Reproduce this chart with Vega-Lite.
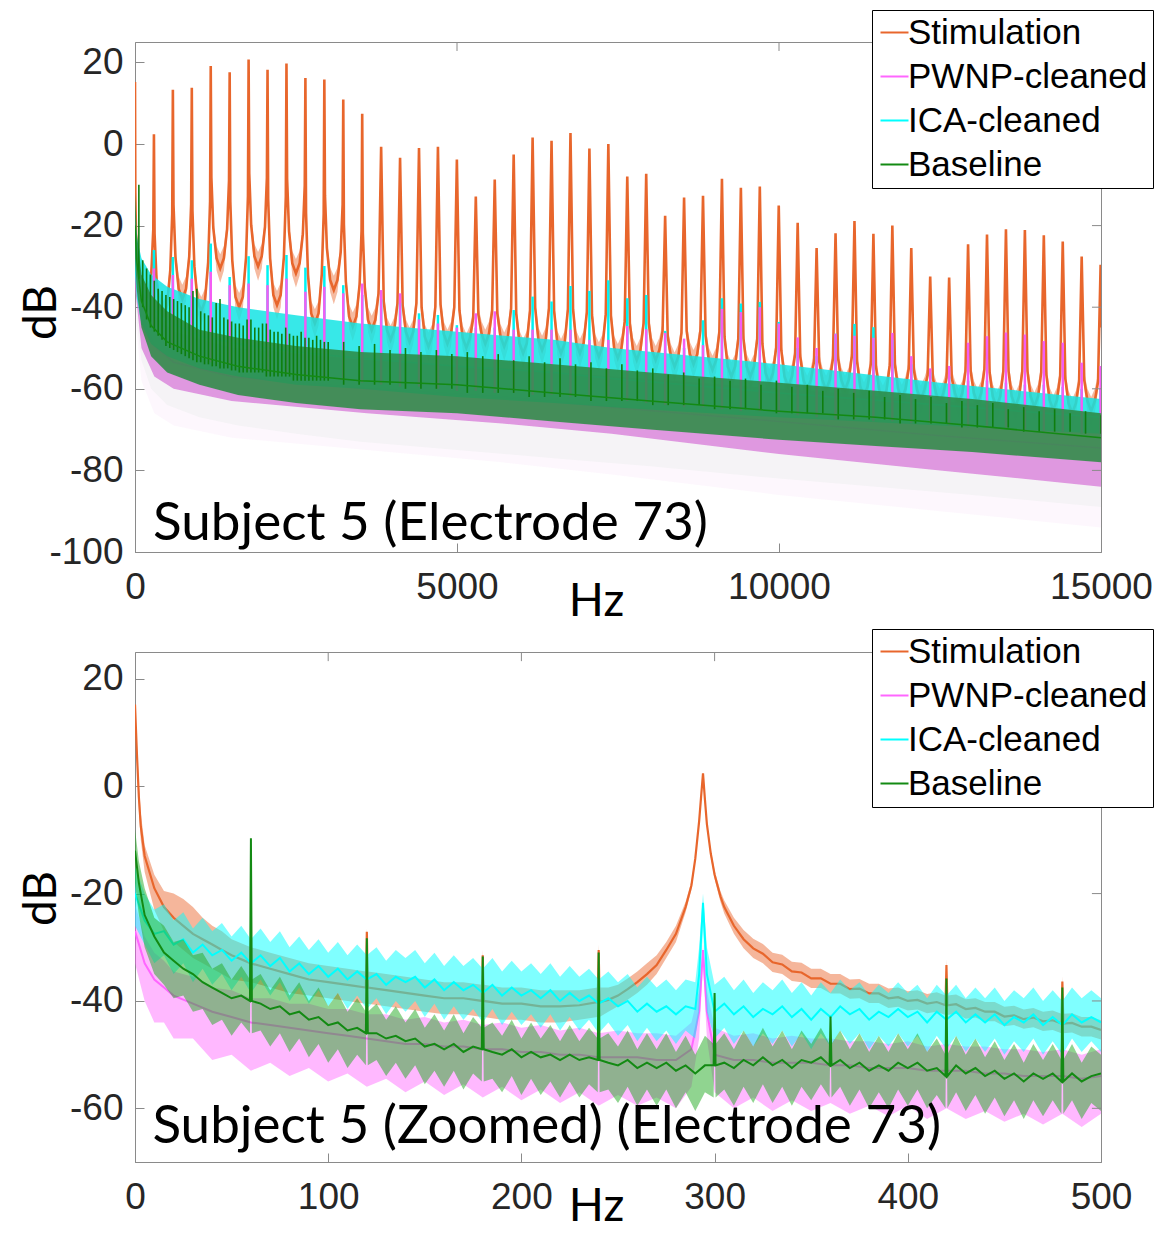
{
  "$schema": "https://vega.github.io/schema/vega-lite/v6.json",
  "background": "white",
  "padding": {"left": 17, "top": 9, "right": 5, "bottom": 20},
  "spacing": 100,
  "bounds": "flush",
  "config": {
    "font": "Liberation Sans",
    "view": {"stroke": "#8a8a8a", "strokeWidth": 1},
    "axis": {"grid": false, "domainColor": "#8a8a8a", "tickColor": "#8a8a8a", "tickSize": -9, "labelFont": "Liberation Sans", "labelFontSize": 37, "labelColor": "#262626", "titleFont": "Lato", "titleFontSize": 46, "titleFontWeight": "normal", "titleColor": "#000000", "labelOverlap": false},
    "axisX": {"labelPadding": 26, "labelFlush": false},
    "axisY": {"labelPadding": 21},
    "legend": {"symbolType": "stroke", "symbolSize": 784, "symbolStrokeWidth": 2, "labelFont": "Liberation Sans", "labelFontSize": 35, "labelColor": "#000000", "labelLimit": 400, "strokeColor": "#000000", "fillColor": "#ffffff", "padding": 5, "rowPadding": 8, "labelOffset": -4}
  },
  "resolve": {"scale": {"x": "independent", "y": "independent", "color": "independent"}, "legend": {"color": "independent"}},
  "datasets": {
    "stimTop": [
      {"hz":0,"db":15.2,"lo":15.2,"hi":15.2},{"hz":5,"db":-12,"lo":-13,"hi":-11},{"hz":15,"db":-22,"lo":-24,"hi":-20},{"hz":50,"db":-32,"lo":-35,"hi":-29},{"hz":147,"db":-40,"lo":-43.5,"hi":-36.5},
      {"hz":254,"db":-31.5,"lo":-33.5,"hi":-29.5},{"hz":284,"db":-20.9,"lo":-21.9,"hi":-19.9},{"hz":294,"db":2.4,"lo":2.4,"hi":2.4},{"hz":304,"db":-22,"lo":-23,"hi":-21},{"hz":334,"db":-33.1,"lo":-35.1,"hi":-31.1},{"hz":441,"db":-42,"lo":-45.5,"hi":-38.5},
      {"hz":548,"db":-30.9,"lo":-32.9,"hi":-28.9},{"hz":578,"db":-17.1,"lo":-18.1,"hi":-16.1},{"hz":588,"db":13.3,"lo":13.3,"hi":13.3},{"hz":598,"db":-14.9,"lo":-15.9,"hi":-13.9},{"hz":628,"db":-27.7,"lo":-29.7,"hi":-25.7},{"hz":735,"db":-38,"lo":-41.5,"hi":-34.5},
      {"hz":842,"db":-27.6,"lo":-29.6,"hi":-25.6},{"hz":872,"db":-14.7,"lo":-15.7,"hi":-13.7},{"hz":882,"db":13.8,"lo":13.8,"hi":13.8},{"hz":892,"db":-16.3,"lo":-17.3,"hi":-15.3},{"hz":922,"db":-30,"lo":-32,"hi":-28},{"hz":1029,"db":-41,"lo":-44.5,"hi":-37.5},
      {"hz":1136,"db":-29,"lo":-31,"hi":-27},{"hz":1166,"db":-14,"lo":-15,"hi":-13},{"hz":1176,"db":19.1,"lo":19.1,"hi":19.1},{"hz":1186,"db":-8.2,"lo":-9.2,"hi":-7.2},{"hz":1216,"db":-20.6,"lo":-22.6,"hi":-18.6},{"hz":1323,"db":-30.5,"lo":-34,"hi":-27},
      {"hz":1430,"db":-20.9,"lo":-22.9,"hi":-18.9},{"hz":1460,"db":-8.9,"lo":-9.9,"hi":-7.9},{"hz":1470,"db":17.6,"lo":17.6,"hi":17.6},{"hz":1480,"db":-14.1,"lo":-15.1,"hi":-13.1},{"hz":1510,"db":-28.5,"lo":-30.5,"hi":-26.5},{"hz":1617,"db":-40,"lo":-43.5,"hi":-36.5},
      {"hz":1724,"db":-27.9,"lo":-29.9,"hi":-25.9},{"hz":1754,"db":-12.7,"lo":-13.7,"hi":-11.7},{"hz":1764,"db":20.7,"lo":20.7,"hi":20.7},{"hz":1774,"db":-7.2,"lo":-8.2,"hi":-6.2},{"hz":1804,"db":-19.9,"lo":-21.9,"hi":-17.9},{"hz":1911,"db":-30,"lo":-33.5,"hi":-26.5},
      {"hz":2018,"db":-20.4,"lo":-22.4,"hi":-18.4},{"hz":2048,"db":-8.3,"lo":-9.3,"hi":-7.3},{"hz":2058,"db":18.2,"lo":18.2,"hi":18.2},{"hz":2068,"db":-13.5,"lo":-14.5,"hi":-12.5},{"hz":2098,"db":-28,"lo":-30,"hi":-26},{"hz":2205,"db":-39.5,"lo":-43,"hi":-36},
      {"hz":2312,"db":-27.7,"lo":-29.7,"hi":-25.7},{"hz":2342,"db":-12.9,"lo":-13.9,"hi":-11.9},{"hz":2352,"db":19.7,"lo":19.7,"hi":19.7},{"hz":2362,"db":-8.6,"lo":-9.6,"hi":-7.6},{"hz":2392,"db":-21.4,"lo":-23.4,"hi":-19.4},{"hz":2499,"db":-31.7,"lo":-35.2,"hi":-28.2},
      {"hz":2606,"db":-22.1,"lo":-24.1,"hi":-20.1},{"hz":2636,"db":-10.1,"lo":-11.1,"hi":-9.1},{"hz":2646,"db":16.2,"lo":16.2,"hi":16.2},{"hz":2656,"db":-16.9,"lo":-17.9,"hi":-15.9},{"hz":2686,"db":-32,"lo":-34,"hi":-30},{"hz":2793,"db":-44,"lo":-47.5,"hi":-40.5},
      {"hz":2900,"db":-32,"lo":-34,"hi":-30},{"hz":2930,"db":-17.1,"lo":-18.1,"hi":-16.1},{"hz":2940,"db":15.8,"lo":15.8,"hi":15.8},{"hz":2950,"db":-12.6,"lo":-13.6,"hi":-11.6},{"hz":2980,"db":-25.5,"lo":-27.5,"hi":-23.5},{"hz":3087,"db":-35.8,"lo":-39.3,"hi":-32.3},
      {"hz":3194,"db":-26.5,"lo":-28.5,"hi":-24.5},{"hz":3224,"db":-14.8,"lo":-15.8,"hi":-13.8},{"hz":3234,"db":10.9,"lo":10.9,"hi":10.9},{"hz":3244,"db":-19.7,"lo":-20.7,"hi":-18.7},{"hz":3274,"db":-33.7,"lo":-35.7,"hi":-31.7},{"hz":3381,"db":-44.8,"lo":-48.3,"hi":-41.3},
      {"hz":3488,"db":-34.4,"lo":-36.4,"hi":-32.4},{"hz":3518,"db":-21.3,"lo":-22.3,"hi":-20.3},{"hz":3528,"db":7.4,"lo":7.4,"hi":7.4},{"hz":3538,"db":-21.8,"lo":-22.8,"hi":-20.8},{"hz":3568,"db":-35,"lo":-37,"hi":-33},{"hz":3675,"db":-45.6,"lo":-49.1,"hi":-42.1},
      {"hz":3782,"db":-36.6,"lo":-38.6,"hi":-34.6},{"hz":3822,"db":-0.7,"lo":-0.7,"hi":-0.7},{"hz":3862,"db":-38.5,"lo":-40.5,"hi":-36.5},{"hz":3969,"db":-48,"lo":-51.5,"hi":-44.5},
      {"hz":4076,"db":-39.1,"lo":-41.1,"hi":-37.1},{"hz":4116,"db":-3.4,"lo":-3.4,"hi":-3.4},{"hz":4156,"db":-39.5,"lo":-41.5,"hi":-37.5},{"hz":4263,"db":-48.5,"lo":-52,"hi":-45},
      {"hz":4370,"db":-39,"lo":-41,"hi":-37},{"hz":4410,"db":-1,"lo":-1,"hi":-1},{"hz":4450,"db":-40,"lo":-42,"hi":-38},{"hz":4557,"db":-49.7,"lo":-53.2,"hi":-46.2},
      {"hz":4664,"db":-39.9,"lo":-41.9,"hi":-37.9},{"hz":4704,"db":-0.7,"lo":-0.7,"hi":-0.7},{"hz":4744,"db":-39.3,"lo":-41.3,"hi":-37.3},{"hz":4851,"db":-49,"lo":-52.5,"hi":-45.5},
      {"hz":4958,"db":-40,"lo":-42,"hi":-38},{"hz":4998,"db":-3.8,"lo":-3.8,"hi":-3.8},{"hz":5038,"db":-40.8,"lo":-42.8,"hi":-38.8},{"hz":5145,"db":-50,"lo":-53.5,"hi":-46.5},
      {"hz":5252,"db":-42.6,"lo":-44.6,"hi":-40.6},{"hz":5292,"db":-12.9,"lo":-12.9,"hi":-12.9},{"hz":5332,"db":-41.8,"lo":-43.8,"hi":-39.8},{"hz":5439,"db":-49,"lo":-52.5,"hi":-45.5},
      {"hz":5546,"db":-40.9,"lo":-42.9,"hi":-38.9},{"hz":5586,"db":-8.7,"lo":-8.7,"hi":-8.7},{"hz":5626,"db":-41.5,"lo":-43.5,"hi":-39.5},{"hz":5733,"db":-49.7,"lo":-53.2,"hi":-46.2},
      {"hz":5840,"db":-40.3,"lo":-42.3,"hi":-38.3},{"hz":5880,"db":-2.6,"lo":-2.6,"hi":-2.6},{"hz":5920,"db":-41.6,"lo":-43.6,"hi":-39.6},{"hz":6027,"db":-51.3,"lo":-54.8,"hi":-47.8},
      {"hz":6134,"db":-40.7,"lo":-42.7,"hi":-38.7},{"hz":6174,"db":1.6,"lo":1.6,"hi":1.6},{"hz":6214,"db":-40.1,"lo":-42.1,"hi":-38.1},{"hz":6321,"db":-50.5,"lo":-54,"hi":-47},
      {"hz":6428,"db":-40.2,"lo":-42.2,"hi":-38.2},{"hz":6468,"db":0.8,"lo":0.8,"hi":0.8},{"hz":6508,"db":-40.9,"lo":-42.9,"hi":-38.9},{"hz":6615,"db":-51.3,"lo":-54.8,"hi":-47.8},
      {"hz":6722,"db":-40.5,"lo":-42.5,"hi":-38.5},{"hz":6762,"db":2.7,"lo":2.7,"hi":2.7},{"hz":6802,"db":-40.5,"lo":-42.5,"hi":-38.5},{"hz":6909,"db":-51.3,"lo":-54.8,"hi":-47.8},
      {"hz":7016,"db":-41.3,"lo":-43.3,"hi":-39.3},{"hz":7056,"db":-1.1,"lo":-1.1,"hi":-1.1},{"hz":7096,"db":-41.9,"lo":-43.9,"hi":-39.9},{"hz":7203,"db":-52.1,"lo":-55.6,"hi":-48.6},
      {"hz":7310,"db":-41.7,"lo":-43.7,"hi":-39.7},{"hz":7350,"db":0,"lo":0,"hi":0},{"hz":7390,"db":-42,"lo":-44,"hi":-40},{"hz":7497,"db":-52.5,"lo":-56,"hi":-49},
      {"hz":7604,"db":-43.6,"lo":-45.6,"hi":-41.6},{"hz":7644,"db":-8,"lo":-8,"hi":-8},{"hz":7684,"db":-44,"lo":-46,"hi":-42},{"hz":7791,"db":-53,"lo":-56.5,"hi":-49.5},
      {"hz":7898,"db":-43.9,"lo":-45.9,"hi":-41.9},{"hz":7938,"db":-7.3,"lo":-7.3,"hi":-7.3},{"hz":7978,"db":-43.9,"lo":-45.9,"hi":-41.9},{"hz":8085,"db":-53,"lo":-56.5,"hi":-49.5},
      {"hz":8192,"db":-45.9,"lo":-47.9,"hi":-43.9},{"hz":8232,"db":-17.6,"lo":-17.6,"hi":-17.6},{"hz":8272,"db":-47.2,"lo":-49.2,"hi":-45.2},{"hz":8379,"db":-54.6,"lo":-58.1,"hi":-51.1},
      {"hz":8486,"db":-46.3,"lo":-48.3,"hi":-44.3},{"hz":8526,"db":-13.1,"lo":-13.1,"hi":-13.1},{"hz":8566,"db":-45.8,"lo":-47.8,"hi":-43.8},{"hz":8673,"db":-54,"lo":-57.5,"hi":-50.5},
      {"hz":8780,"db":-45.7,"lo":-47.7,"hi":-43.7},{"hz":8820,"db":-12.7,"lo":-12.7,"hi":-12.7},{"hz":8860,"db":-46.9,"lo":-48.9,"hi":-44.9},{"hz":8967,"db":-55.4,"lo":-58.9,"hi":-51.9},
      {"hz":9074,"db":-46,"lo":-48,"hi":-44},{"hz":9114,"db":-8.5,"lo":-8.5,"hi":-8.5},{"hz":9154,"db":-47.3,"lo":-49.3,"hi":-45.3},{"hz":9261,"db":-57,"lo":-60.5,"hi":-53.5},
      {"hz":9368,"db":-47.7,"lo":-49.7,"hi":-45.7},{"hz":9408,"db":-10.7,"lo":-10.7,"hi":-10.7},{"hz":9448,"db":-47.7,"lo":-49.7,"hi":-45.7},{"hz":9555,"db":-57,"lo":-60.5,"hi":-53.5},
      {"hz":9662,"db":-47.7,"lo":-49.7,"hi":-45.7},{"hz":9702,"db":-10.4,"lo":-10.4,"hi":-10.4},{"hz":9742,"db":-49,"lo":-51,"hi":-47},{"hz":9849,"db":-58.6,"lo":-62.1,"hi":-55.1},
      {"hz":9956,"db":-49.9,"lo":-51.9,"hi":-47.9},{"hz":9996,"db":-15.1,"lo":-15.1,"hi":-15.1},{"hz":10036,"db":-50.6,"lo":-52.6,"hi":-48.6},{"hz":10143,"db":-59.5,"lo":-63,"hi":-56},
      {"hz":10250,"db":-51.5,"lo":-53.5,"hi":-49.5},{"hz":10290,"db":-19.3,"lo":-19.3,"hi":-19.3},{"hz":10330,"db":-52.1,"lo":-54.1,"hi":-50.1},{"hz":10437,"db":-60.3,"lo":-63.8,"hi":-56.8},
      {"hz":10544,"db":-53.3,"lo":-55.3,"hi":-51.3},{"hz":10584,"db":-25.5,"lo":-25.5,"hi":-25.5},{"hz":10624,"db":-53.3,"lo":-55.3,"hi":-51.3},{"hz":10731,"db":-60.3,"lo":-63.8,"hi":-56.8},
      {"hz":10838,"db":-52.6,"lo":-54.6,"hi":-50.6},{"hz":10878,"db":-21.9,"lo":-21.9,"hi":-21.9},{"hz":10918,"db":-52.6,"lo":-54.6,"hi":-50.6},{"hz":11025,"db":-60.3,"lo":-63.8,"hi":-56.8},
      {"hz":11132,"db":-52,"lo":-54,"hi":-50},{"hz":11172,"db":-18.9,"lo":-18.9,"hi":-18.9},{"hz":11212,"db":-53.3,"lo":-55.3,"hi":-51.3},{"hz":11319,"db":-61.9,"lo":-65.4,"hi":-58.4},
      {"hz":11426,"db":-53.9,"lo":-55.9,"hi":-51.9},{"hz":11466,"db":-22,"lo":-22,"hi":-22},{"hz":11506,"db":-54.6,"lo":-56.6,"hi":-52.6},{"hz":11613,"db":-62.7,"lo":-66.2,"hi":-59.2},
      {"hz":11720,"db":-54.2,"lo":-56.2,"hi":-52.2},{"hz":11760,"db":-20,"lo":-20,"hi":-20},{"hz":11800,"db":-54,"lo":-56,"hi":-52},{"hz":11907,"db":-62.5,"lo":-66,"hi":-59},
      {"hz":12014,"db":-55.1,"lo":-57.1,"hi":-53.1},{"hz":12054,"db":-25.5,"lo":-25.5,"hi":-25.5},{"hz":12094,"db":-55.3,"lo":-57.3,"hi":-53.3},{"hz":12201,"db":-62.7,"lo":-66.2,"hi":-59.2},
      {"hz":12308,"db":-56.7,"lo":-58.7,"hi":-54.7},{"hz":12348,"db":-32.5,"lo":-32.5,"hi":-32.5},{"hz":12388,"db":-57.3,"lo":-59.3,"hi":-55.3},{"hz":12495,"db":-63.5,"lo":-67,"hi":-60},
      {"hz":12602,"db":-57.3,"lo":-59.3,"hi":-55.3},{"hz":12642,"db":-32.7,"lo":-32.7,"hi":-32.7},{"hz":12682,"db":-57.3,"lo":-59.3,"hi":-55.3},{"hz":12789,"db":-63.5,"lo":-67,"hi":-60},
      {"hz":12896,"db":-55.7,"lo":-57.7,"hi":-53.7},{"hz":12936,"db":-24.6,"lo":-24.6,"hi":-24.6},{"hz":12976,"db":-55.7,"lo":-57.7,"hi":-53.7},{"hz":13083,"db":-63.5,"lo":-67,"hi":-60},
      {"hz":13190,"db":-55.2,"lo":-57.2,"hi":-53.2},{"hz":13230,"db":-22.2,"lo":-22.2,"hi":-22.2},{"hz":13270,"db":-56,"lo":-58,"hi":-54},{"hz":13377,"db":-64.4,"lo":-67.9,"hi":-60.9},
      {"hz":13484,"db":-55.7,"lo":-57.7,"hi":-53.7},{"hz":13524,"db":-20.9,"lo":-20.9,"hi":-20.9},{"hz":13564,"db":-55.7,"lo":-57.7,"hi":-53.7},{"hz":13671,"db":-64.4,"lo":-67.9,"hi":-60.9},
      {"hz":13778,"db":-55.7,"lo":-57.7,"hi":-53.7},{"hz":13818,"db":-21.1,"lo":-21.1,"hi":-21.1},{"hz":13858,"db":-55.7,"lo":-57.7,"hi":-53.7},{"hz":13965,"db":-64.4,"lo":-67.9,"hi":-60.9},
      {"hz":14072,"db":-56,"lo":-58,"hi":-54},{"hz":14112,"db":-22.4,"lo":-22.4,"hi":-22.4},{"hz":14152,"db":-56.6,"lo":-58.6,"hi":-54.6},{"hz":14259,"db":-65.2,"lo":-68.7,"hi":-61.7},
      {"hz":14366,"db":-56.9,"lo":-58.9,"hi":-54.9},{"hz":14406,"db":-23.9,"lo":-23.9,"hi":-23.9},{"hz":14446,"db":-57.6,"lo":-59.6,"hi":-55.6},{"hz":14553,"db":-66,"lo":-69.5,"hi":-62.5},
      {"hz":14660,"db":-58.3,"lo":-60.3,"hi":-56.3},{"hz":14700,"db":-27.6,"lo":-27.6,"hi":-27.6},{"hz":14740,"db":-57.9,"lo":-59.9,"hi":-55.9},{"hz":14847,"db":-65.5,"lo":-69,"hi":-62},
      {"hz":14954,"db":-58.3,"lo":-60.3,"hi":-56.3},{"hz":14994,"db":-29.6,"lo":-29.6,"hi":-29.6},{"hz":15000,"db":-45,"lo":-46,"hi":-44},
      {"hz":204,"db":-37.5,"lo":-40.5,"hi":-34.5},{"hz":384,"db":-39.5,"lo":-42.5,"hi":-36.5},{"hz":498,"db":-39.5,"lo":-42.5,"hi":-36.5},{"hz":678,"db":-35.5,"lo":-38.5,"hi":-32.5},{"hz":792,"db":-35.5,"lo":-38.5,"hi":-32.5},
      {"hz":972,"db":-38.5,"lo":-41.5,"hi":-35.5},{"hz":1086,"db":-38.5,"lo":-41.5,"hi":-35.5},{"hz":1266,"db":-28,"lo":-31,"hi":-25},{"hz":1380,"db":-28,"lo":-31,"hi":-25},{"hz":1560,"db":-37.5,"lo":-40.5,"hi":-34.5},
      {"hz":1674,"db":-37.5,"lo":-40.5,"hi":-34.5},{"hz":1854,"db":-27.5,"lo":-30.5,"hi":-24.5},{"hz":1968,"db":-27.5,"lo":-30.5,"hi":-24.5},{"hz":2148,"db":-37,"lo":-40,"hi":-34},{"hz":2262,"db":-37,"lo":-40,"hi":-34},
      {"hz":2442,"db":-29.2,"lo":-32.2,"hi":-26.2},{"hz":2556,"db":-29.2,"lo":-32.2,"hi":-26.2},{"hz":2736,"db":-41.5,"lo":-44.5,"hi":-38.5},{"hz":2850,"db":-41.5,"lo":-44.5,"hi":-38.5},{"hz":3030,"db":-33.3,"lo":-36.3,"hi":-30.3},
      {"hz":3144,"db":-33.3,"lo":-36.3,"hi":-30.3},{"hz":3324,"db":-42.3,"lo":-45.3,"hi":-39.3},{"hz":3438,"db":-42.3,"lo":-45.3,"hi":-39.3},{"hz":3618,"db":-43.1,"lo":-46.1,"hi":-40.1},{"hz":3732,"db":-43.1,"lo":-46.1,"hi":-40.1},
      {"hz":3912,"db":-45.5,"lo":-48.5,"hi":-42.5},{"hz":4026,"db":-45.5,"lo":-48.5,"hi":-42.5},{"hz":4206,"db":-46,"lo":-49,"hi":-43},{"hz":4320,"db":-46,"lo":-49,"hi":-43},{"hz":4500,"db":-47.2,"lo":-50.2,"hi":-44.2},
      {"hz":4614,"db":-47.2,"lo":-50.2,"hi":-44.2},{"hz":4794,"db":-46.5,"lo":-49.5,"hi":-43.5},{"hz":4908,"db":-46.5,"lo":-49.5,"hi":-43.5},{"hz":5088,"db":-47.5,"lo":-50.5,"hi":-44.5},{"hz":5202,"db":-47.5,"lo":-50.5,"hi":-44.5},
      {"hz":5382,"db":-46.5,"lo":-49.5,"hi":-43.5},{"hz":5496,"db":-46.5,"lo":-49.5,"hi":-43.5},{"hz":5676,"db":-47.2,"lo":-50.2,"hi":-44.2},{"hz":5790,"db":-47.2,"lo":-50.2,"hi":-44.2},{"hz":5970,"db":-48.8,"lo":-51.8,"hi":-45.8},
      {"hz":6084,"db":-48.8,"lo":-51.8,"hi":-45.8},{"hz":6264,"db":-48,"lo":-51,"hi":-45},{"hz":6378,"db":-48,"lo":-51,"hi":-45},{"hz":6558,"db":-48.8,"lo":-51.8,"hi":-45.8},{"hz":6672,"db":-48.8,"lo":-51.8,"hi":-45.8},
      {"hz":6852,"db":-48.8,"lo":-51.8,"hi":-45.8},{"hz":6966,"db":-48.8,"lo":-51.8,"hi":-45.8},{"hz":7146,"db":-49.6,"lo":-52.6,"hi":-46.6},{"hz":7260,"db":-49.6,"lo":-52.6,"hi":-46.6},{"hz":7440,"db":-50,"lo":-53,"hi":-47},
      {"hz":7554,"db":-50,"lo":-53,"hi":-47},{"hz":7734,"db":-50.5,"lo":-53.5,"hi":-47.5},{"hz":7848,"db":-50.5,"lo":-53.5,"hi":-47.5},{"hz":8028,"db":-50.5,"lo":-53.5,"hi":-47.5},{"hz":8142,"db":-50.5,"lo":-53.5,"hi":-47.5},
      {"hz":8322,"db":-52.1,"lo":-55.1,"hi":-49.1},{"hz":8436,"db":-52.1,"lo":-55.1,"hi":-49.1},{"hz":8616,"db":-51.5,"lo":-54.5,"hi":-48.5},{"hz":8730,"db":-51.5,"lo":-54.5,"hi":-48.5},{"hz":8910,"db":-52.9,"lo":-55.9,"hi":-49.9},
      {"hz":9024,"db":-52.9,"lo":-55.9,"hi":-49.9},{"hz":9204,"db":-54.5,"lo":-57.5,"hi":-51.5},{"hz":9318,"db":-54.5,"lo":-57.5,"hi":-51.5},{"hz":9498,"db":-54.5,"lo":-57.5,"hi":-51.5},{"hz":9612,"db":-54.5,"lo":-57.5,"hi":-51.5},
      {"hz":9792,"db":-56.1,"lo":-59.1,"hi":-53.1},{"hz":9906,"db":-56.1,"lo":-59.1,"hi":-53.1},{"hz":10086,"db":-57,"lo":-60,"hi":-54},{"hz":10200,"db":-57,"lo":-60,"hi":-54},{"hz":10380,"db":-57.8,"lo":-60.8,"hi":-54.8},
      {"hz":10494,"db":-57.8,"lo":-60.8,"hi":-54.8},{"hz":10674,"db":-57.8,"lo":-60.8,"hi":-54.8},{"hz":10788,"db":-57.8,"lo":-60.8,"hi":-54.8},{"hz":10968,"db":-57.8,"lo":-60.8,"hi":-54.8},{"hz":11082,"db":-57.8,"lo":-60.8,"hi":-54.8},
      {"hz":11262,"db":-59.4,"lo":-62.4,"hi":-56.4},{"hz":11376,"db":-59.4,"lo":-62.4,"hi":-56.4},{"hz":11556,"db":-60.2,"lo":-63.2,"hi":-57.2},{"hz":11670,"db":-60.2,"lo":-63.2,"hi":-57.2},{"hz":11850,"db":-60,"lo":-63,"hi":-57},
      {"hz":11964,"db":-60,"lo":-63,"hi":-57},{"hz":12144,"db":-60.2,"lo":-63.2,"hi":-57.2},{"hz":12258,"db":-60.2,"lo":-63.2,"hi":-57.2},{"hz":12438,"db":-61,"lo":-64,"hi":-58},{"hz":12552,"db":-61,"lo":-64,"hi":-58},
      {"hz":12732,"db":-61,"lo":-64,"hi":-58},{"hz":12846,"db":-61,"lo":-64,"hi":-58},{"hz":13026,"db":-61,"lo":-64,"hi":-58},{"hz":13140,"db":-61,"lo":-64,"hi":-58},{"hz":13320,"db":-61.9,"lo":-64.9,"hi":-58.9},
      {"hz":13434,"db":-61.9,"lo":-64.9,"hi":-58.9},{"hz":13614,"db":-61.9,"lo":-64.9,"hi":-58.9},{"hz":13728,"db":-61.9,"lo":-64.9,"hi":-58.9},{"hz":13908,"db":-61.9,"lo":-64.9,"hi":-58.9},{"hz":14022,"db":-61.9,"lo":-64.9,"hi":-58.9},
      {"hz":14202,"db":-62.7,"lo":-65.7,"hi":-59.7},{"hz":14316,"db":-62.7,"lo":-65.7,"hi":-59.7},{"hz":14496,"db":-63.5,"lo":-66.5,"hi":-60.5},{"hz":14610,"db":-63.5,"lo":-66.5,"hi":-60.5},{"hz":14790,"db":-63,"lo":-66,"hi":-60},
      {"hz":14904,"db":-63,"lo":-66,"hi":-60}
    ],
    "pwnpTop": [
      {"hz":0,"db":-27.5,"lo":-35,"hi":-20,"haze":-42},{"hz":100,"db":-42.5,"lo":-50,"hi":-35,"haze":-58},{"hz":300,"db":-49.5,"lo":-57,"hi":-42,"haze":-66},{"hz":600,"db":-53.5,"lo":-60,"hi":-46,"haze":-69},
      {"hz":1500,"db":-57,"lo":-63,"hi":-50,"haze":-72},{"hz":3600,"db":-60,"lo":-66,"hi":-53,"haze":-75},{"hz":5700,"db":-62,"lo":-68.5,"hi":-55,"haze":-78},{"hz":7400,"db":-64.5,"lo":-71,"hi":-57,"haze":-81},
      {"hz":10000,"db":-68,"lo":-76,"hi":-60,"haze":-86},{"hz":12500,"db":-71.5,"lo":-80,"hi":-63,"haze":-90},{"hz":15000,"db":-74.5,"lo":-84,"hi":-66,"haze":-94}
    ],
    "icaTop": [
      {"hz":0,"db":-25,"lo":-32,"hi":-18},{"hz":30,"db":-30,"lo":-38,"hi":-23},{"hz":100,"db":-35,"lo":-44,"hi":-28},{"hz":250,"db":-40,"lo":-49,"hi":-32},{"hz":500,"db":-43.5,"lo":-52,"hi":-35},
      {"hz":1000,"db":-47,"lo":-55,"hi":-38},{"hz":1600,"db":-49,"lo":-57,"hi":-40},{"hz":2500,"db":-51,"lo":-59,"hi":-42},{"hz":3500,"db":-52.5,"lo":-60,"hi":-44},{"hz":5000,"db":-54.5,"lo":-62,"hi":-46},
      {"hz":6500,"db":-56,"lo":-63.5,"hi":-48},{"hz":7400,"db":-57.5,"lo":-64.5,"hi":-50},{"hz":10000,"db":-61,"lo":-67,"hi":-54},{"hz":12500,"db":-64,"lo":-69,"hi":-58.5},{"hz":15000,"db":-67,"lo":-71,"hi":-62.5}
    ],
    "baseTop": [
      {"hz":0,"db":-20,"lo":-28,"hi":-12,"haze":-34},{"hz":30,"db":-29,"lo":-36,"hi":-22,"haze":-44},{"hz":100,"db":-38.5,"lo":-45,"hi":-32,"haze":-53},{"hz":250,"db":-44.5,"lo":-52,"hi":-37,"haze":-60},
      {"hz":500,"db":-48.5,"lo":-56,"hi":-41,"haze":-64},{"hz":1000,"db":-52,"lo":-59,"hi":-45.5,"haze":-67},{"hz":1600,"db":-54.5,"lo":-61.5,"hi":-47.5,"haze":-69},{"hz":2500,"db":-56.5,"lo":-63.5,"hi":-49.5,"haze":-71},
      {"hz":3500,"db":-58,"lo":-65,"hi":-51,"haze":-73},{"hz":5000,"db":-59,"lo":-66,"hi":-52,"haze":-75},{"hz":6500,"db":-61,"lo":-68,"hi":-54,"haze":-77},{"hz":8000,"db":-63,"lo":-70,"hi":-56,"haze":-79},
      {"hz":10000,"db":-65.5,"lo":-72.5,"hi":-58.5,"haze":-82},{"hz":11500,"db":-67,"lo":-74,"hi":-60.5,"haze":-84},{"hz":13000,"db":-69,"lo":-75.5,"hi":-62.5,"haze":-86},{"hz":15000,"db":-72,"lo":-78,"hi":-66,"haze":-89}
    ],
    "harmonicsTop": [
      {"hz":294,"ica":-26,"pwnp":-30.5,"base":-45.5},{"hz":588,"ica":-27.7,"pwnp":-32.1,"base":-50},{"hz":882,"ica":-28.5,"pwnp":-33,"base":-52},{"hz":1176,"ica":-24.4,"pwnp":-31.3,"base":-53.5},
      {"hz":1470,"ica":-32.6,"pwnp":-34.6,"base":-54},{"hz":1764,"ica":-27.5,"pwnp":-34.2,"base":-55.5},{"hz":2058,"ica":-29.7,"pwnp":-34.6,"base":-56},{"hz":2352,"ica":-27.2,"pwnp":-33,"base":-56.5},
      {"hz":2646,"ica":-30.3,"pwnp":-36.2,"base":-57},{"hz":2940,"ica":-29.9,"pwnp":-35,"base":-57.5},{"hz":3234,"ica":-34.6,"pwnp":-36.6,"base":-58},{"hz":3528,"ica":-37,"pwnp":-34.2,"base":-58.5},
      {"hz":3822,"ica":-38,"pwnp":-35.8,"base":-59},{"hz":4116,"ica":-39,"pwnp":-36.6,"base":-59.5},{"hz":4410,"ica":-41.5,"pwnp":-43,"base":-59.5},{"hz":4704,"ica":-41.9,"pwnp":-44,"base":-60},
      {"hz":4998,"ica":-44.4,"pwnp":-45,"base":-60.5},{"hz":5292,"ica":-45,"pwnp":-41.5,"base":-60.5},{"hz":5586,"ica":-45,"pwnp":-41,"base":-61},{"hz":5880,"ica":-40.7,"pwnp":-45.5,"base":-61},
      {"hz":6174,"ica":-37.4,"pwnp":-45.5,"base":-61.5},{"hz":6468,"ica":-38.6,"pwnp":-45.5,"base":-61.5},{"hz":6762,"ica":-34.8,"pwnp":-45.5,"base":-62},{"hz":7056,"ica":-36,"pwnp":-48,"base":-62},
      {"hz":7350,"ica":-33.4,"pwnp":-48,"base":-62.5},{"hz":7644,"ica":-37.8,"pwnp":-44.6,"base":-63},{"hz":7938,"ica":-37,"pwnp":-45.4,"base":-63.5},{"hz":8232,"ica":-45.8,"pwnp":-46.3,"base":-64},
      {"hz":8526,"ica":-50,"pwnp":-47.7,"base":-64.5},{"hz":8820,"ica":-43.2,"pwnp":-49.3,"base":-64.5},{"hz":9114,"ica":-37.8,"pwnp":-40.4,"base":-65},{"hz":9408,"ica":-39.1,"pwnp":-41.2,"base":-65.5},
      {"hz":9702,"ica":-38.7,"pwnp":-40,"base":-65.5},{"hz":9996,"ica":-43.6,"pwnp":-44,"base":-66},{"hz":10290,"ica":-50,"pwnp":-47.4,"base":-66.5},{"hz":10584,"ica":-52,"pwnp":-50,"base":-67},
      {"hz":10878,"ica":-46.5,"pwnp":-46.5,"base":-67.5},{"hz":11172,"ica":-44.1,"pwnp":-47,"base":-67.5},{"hz":11466,"ica":-44.9,"pwnp":-47.5,"base":-68},{"hz":11760,"ica":-48,"pwnp":-46.3,"base":-68},
      {"hz":12054,"ica":-54,"pwnp":-52,"base":-68.5},{"hz":12348,"ica":-56,"pwnp":-55,"base":-68.5},{"hz":12642,"ica":-57,"pwnp":-54.4,"base":-69},{"hz":12936,"ica":-58,"pwnp":-48.7,"base":-69.5},
      {"hz":13230,"ica":-58,"pwnp":-47.1,"base":-69.5},{"hz":13524,"ica":-58.5,"pwnp":-46.2,"base":-70},{"hz":13818,"ica":-59,"pwnp":-46.7,"base":-70},{"hz":14112,"ica":-59,"pwnp":-48.3,"base":-70.5},
      {"hz":14406,"ica":-59.5,"pwnp":-48.7,"base":-70.5},{"hz":14700,"ica":-60,"pwnp":-53.6,"base":-71},{"hz":14994,"ica":-60,"pwnp":-54.4,"base":-71}
    ],
    "lineNoiseTop": [
      {"hz":60,"top":-10,"base":-33},{"hz":120,"top":-28.5,"base":-40},{"hz":180,"top":-30.5,"base":-43},{"hz":240,"top":-32,"base":-45},{"hz":300,"top":-33.5,"base":-46},{"hz":360,"top":-35.5,"base":-47},
      {"hz":420,"top":-36,"base":-48},{"hz":480,"top":-37,"base":-49.5},{"hz":540,"top":-37.5,"base":-50},{"hz":600,"top":-38,"base":-50.5},{"hz":660,"top":-38.5,"base":-51},{"hz":720,"top":-39,"base":-51.5},
      {"hz":780,"top":-39.5,"base":-52},{"hz":840,"top":-40,"base":-52.5},{"hz":900,"top":-36,"base":-53},{"hz":960,"top":-35.5,"base":-53.5},{"hz":1020,"top":-41,"base":-53.5},{"hz":1080,"top":-41.5,"base":-54},
      {"hz":1140,"top":-42,"base":-54},{"hz":1200,"top":-42.5,"base":-54.5},{"hz":1260,"top":-39,"base":-54.5},{"hz":1320,"top":-38,"base":-55},{"hz":1380,"top":-42.5,"base":-55},{"hz":1440,"top":-43,"base":-55},
      {"hz":1500,"top":-43.5,"base":-55.5},{"hz":1560,"top":-44,"base":-55.5},{"hz":1620,"top":-44,"base":-56},{"hz":1680,"top":-44.5,"base":-56},{"hz":1740,"top":-43,"base":-56},{"hz":1800,"top":-43,"base":-56},
      {"hz":1860,"top":-45,"base":-56},{"hz":1920,"top":-45,"base":-56},{"hz":1980,"top":-44,"base":-56},{"hz":2040,"top":-44,"base":-57},{"hz":2100,"top":-45.5,"base":-57},{"hz":2160,"top":-46,"base":-57},
      {"hz":2220,"top":-46,"base":-57},{"hz":2280,"top":-46.5,"base":-57},{"hz":2340,"top":-45,"base":-57},{"hz":2400,"top":-46.5,"base":-57},{"hz":2460,"top":-47,"base":-58},{"hz":2520,"top":-47,"base":-58},
      {"hz":2580,"top":-46,"base":-58},{"hz":2640,"top":-47.5,"base":-58},{"hz":2700,"top":-47.5,"base":-58},{"hz":2760,"top":-48,"base":-58},{"hz":2820,"top":-47,"base":-58},{"hz":2880,"top":-48,"base":-58},
      {"hz":2940,"top":-48.5,"base":-58},{"hz":3000,"top":-48.5,"base":-58},{"hz":3240,"top":-48.5,"base":-59},{"hz":3480,"top":-49.5,"base":-59},{"hz":3720,"top":-49,"base":-59},{"hz":3960,"top":-50.5,"base":-59},
      {"hz":4200,"top":-50,"base":-60},{"hz":4440,"top":-51,"base":-60},{"hz":4680,"top":-50.5,"base":-60},{"hz":4920,"top":-51.5,"base":-60},{"hz":5160,"top":-51,"base":-61},{"hz":5400,"top":-52,"base":-61},
      {"hz":5640,"top":-51.5,"base":-61},{"hz":5880,"top":-53,"base":-61},{"hz":6120,"top":-52,"base":-62},{"hz":6360,"top":-53.5,"base":-62},{"hz":6600,"top":-52.5,"base":-62},{"hz":6840,"top":-54,"base":-62},
      {"hz":7080,"top":-53.5,"base":-63},{"hz":7320,"top":-55,"base":-63},{"hz":7560,"top":-54,"base":-63},{"hz":7800,"top":-55.5,"base":-63},{"hz":8040,"top":-55,"base":-64},{"hz":8280,"top":-56.5,"base":-64},
      {"hz":8520,"top":-56,"base":-64},{"hz":8760,"top":-57.5,"base":-64},{"hz":9000,"top":-57,"base":-65},{"hz":9240,"top":-58,"base":-65},{"hz":9480,"top":-57.5,"base":-65},{"hz":9720,"top":-59,"base":-65},
      {"hz":9960,"top":-58,"base":-66},{"hz":10200,"top":-59.5,"base":-66},{"hz":10440,"top":-59,"base":-66},{"hz":10680,"top":-60.5,"base":-66},{"hz":10920,"top":-60,"base":-67.5},{"hz":11160,"top":-61,"base":-67.5},
      {"hz":11400,"top":-60.5,"base":-67.5},{"hz":11640,"top":-62,"base":-67.5},{"hz":11880,"top":-61.5,"base":-68.5},{"hz":12120,"top":-62.5,"base":-68.5},{"hz":12360,"top":-62,"base":-68.5},{"hz":12600,"top":-63.5,"base":-68.5},
      {"hz":12840,"top":-63,"base":-69.5},{"hz":13080,"top":-64,"base":-69.5},{"hz":13320,"top":-63.5,"base":-69.5},{"hz":13560,"top":-65,"base":-69.5},{"hz":13800,"top":-64.5,"base":-70.5},{"hz":14040,"top":-65.5,"base":-70.5},
      {"hz":14280,"top":-65,"base":-70.5},{"hz":14520,"top":-66,"base":-70.5},{"hz":14760,"top":-65.5,"base":-71},{"hz":15000,"top":-66.5,"base":-71}
    ],
    "stimZoom": [
      {"hz":0,"db":15.2,"lo":15.2,"hi":15.2},{"hz":1,"db":6,"lo":4,"hi":8},{"hz":2,"db":-2,"lo":-4.5,"hi":0.5},{"hz":3,"db":-7.5,"lo":-10,"hi":-5},{"hz":5,"db":-13,"lo":-16,"hi":-11},
      {"hz":10,"db":-19,"lo":-23,"hi":-16.5},{"hz":15,"db":-22.5,"lo":-27,"hi":-19.5},{"hz":20,"db":-24.5,"lo":-29,"hi":-20},{"hz":25,"db":-26,"lo":-30.5,"hi":-21},{"hz":30,"db":-27.5,"lo":-32,"hi":-22.5},
      {"hz":35,"db":-28.5,"lo":-33,"hi":-24.5},{"hz":40,"db":-29.5,"lo":-34,"hi":-26},{"hz":45,"db":-30.5,"lo":-35,"hi":-27},{"hz":50,"db":-31.5,"lo":-36,"hi":-28.5},{"hz":60,"db":-33,"lo":-36.5,"hi":-30},
      {"hz":70,"db":-34,"lo":-37.5,"hi":-31},{"hz":80,"db":-35,"lo":-38.5,"hi":-32},{"hz":90,"db":-36,"lo":-39,"hi":-33},{"hz":100,"db":-36.5,"lo":-39.5,"hi":-33.5},{"hz":110,"db":-37,"lo":-40,"hi":-34},
      {"hz":119.5,"db":-37.5,"lo":-40.5,"hi":-34.5},{"hz":120,"db":-27.1,"lo":-28,"hi":-26.5},{"hz":120.5,"db":-37.5,"lo":-40.5,"hi":-34.5},{"hz":130,"db":-38,"lo":-41,"hi":-35},{"hz":140,"db":-38.5,"lo":-41.5,"hi":-35.5},
      {"hz":150,"db":-39,"lo":-42,"hi":-36},{"hz":160,"db":-39.5,"lo":-42.5,"hi":-36.5},{"hz":170,"db":-39.5,"lo":-42.5,"hi":-36.5},{"hz":179.5,"db":-40,"lo":-43,"hi":-37},{"hz":180,"db":-31.5,"lo":-32.5,"hi":-30.5},
      {"hz":180.5,"db":-40,"lo":-43,"hi":-37},{"hz":190,"db":-40.5,"lo":-43.5,"hi":-37.5},{"hz":200,"db":-40.5,"lo":-43.5,"hi":-37.5},{"hz":210,"db":-41,"lo":-44,"hi":-38},{"hz":220,"db":-41,"lo":-44,"hi":-38},
      {"hz":230,"db":-40.8,"lo":-43.5,"hi":-38},{"hz":239.5,"db":-40.2,"lo":-43,"hi":-37.5},{"hz":240,"db":-30.5,"lo":-31.5,"hi":-29.5},{"hz":240.5,"db":-40.2,"lo":-43,"hi":-37.5},{"hz":245,"db":-39.8,"lo":-42,"hi":-37.5},
      {"hz":250,"db":-39,"lo":-41,"hi":-37},{"hz":255,"db":-37.8,"lo":-39.8,"hi":-35.8},{"hz":260,"db":-36.5,"lo":-38.5,"hi":-34.5},{"hz":265,"db":-35,"lo":-37,"hi":-33},{"hz":270,"db":-33.3,"lo":-35,"hi":-31.5},
      {"hz":275,"db":-30.5,"lo":-32,"hi":-29},{"hz":280,"db":-27.5,"lo":-29,"hi":-26},{"hz":285,"db":-22.5,"lo":-23.5,"hi":-21.5},{"hz":288,"db":-18.5,"lo":-19.3,"hi":-17.7},{"hz":290,"db":-13.5,"lo":-14,"hi":-13},
      {"hz":292,"db":-6.5,"lo":-7,"hi":-6},{"hz":293,"db":-2,"lo":-2.3,"hi":-1.7},{"hz":294,"db":2.4,"lo":2.4,"hi":2.4},{"hz":295,"db":-2.5,"lo":-2.8,"hi":-2.2},{"hz":296,"db":-7,"lo":-7.5,"hi":-6.5},
      {"hz":298,"db":-12.5,"lo":-13.2,"hi":-11.8},{"hz":300,"db":-16.5,"lo":-17.3,"hi":-15.7},{"hz":303,"db":-20.5,"lo":-21.5,"hi":-19.5},{"hz":305,"db":-22.5,"lo":-23.7,"hi":-21.3},{"hz":310,"db":-26,"lo":-27.5,"hi":-24.5},
      {"hz":315,"db":-28.5,"lo":-30.2,"hi":-26.8},{"hz":320,"db":-30.2,"lo":-32,"hi":-28.4},{"hz":325,"db":-31.2,"lo":-33,"hi":-29.4},{"hz":330,"db":-32.8,"lo":-34.6,"hi":-31},{"hz":335,"db":-33.2,"lo":-35,"hi":-31.4},
      {"hz":340,"db":-34.5,"lo":-36.3,"hi":-32.7},{"hz":345,"db":-34.7,"lo":-36.5,"hi":-32.9},{"hz":350,"db":-35.8,"lo":-37.6,"hi":-34},{"hz":355,"db":-35.8,"lo":-37.6,"hi":-34},{"hz":360,"db":-36.8,"lo":-38.6,"hi":-35},
      {"hz":365,"db":-36.8,"lo":-38.6,"hi":-35},{"hz":370,"db":-37.8,"lo":-39.6,"hi":-36},{"hz":375,"db":-37.7,"lo":-39.5,"hi":-35.9},{"hz":380,"db":-38.6,"lo":-40.4,"hi":-36.8},{"hz":385,"db":-38.6,"lo":-40.4,"hi":-36.8},
      {"hz":390,"db":-39.5,"lo":-41.3,"hi":-37.7},{"hz":395,"db":-39.3,"lo":-41.1,"hi":-37.5},{"hz":400,"db":-40,"lo":-41.8,"hi":-38.2},{"hz":405,"db":-39.8,"lo":-41.6,"hi":-38},{"hz":410,"db":-40.5,"lo":-42.3,"hi":-38.7},
      {"hz":415,"db":-40.2,"lo":-42,"hi":-38.4},{"hz":419.5,"db":-40.8,"lo":-42.6,"hi":-39},{"hz":420,"db":-33.3,"lo":-34.3,"hi":-32.3},{"hz":420.5,"db":-40.8,"lo":-42.6,"hi":-39},{"hz":425,"db":-40.6,"lo":-42.4,"hi":-38.8},
      {"hz":430,"db":-41.5,"lo":-43.3,"hi":-39.7},{"hz":435,"db":-41.3,"lo":-43.1,"hi":-39.5},{"hz":440,"db":-42,"lo":-43.8,"hi":-40.2},{"hz":445,"db":-42,"lo":-43.8,"hi":-40.2},{"hz":450,"db":-42.9,"lo":-44.7,"hi":-41.1},
      {"hz":455,"db":-42.7,"lo":-44.5,"hi":-40.9},{"hz":460,"db":-43.4,"lo":-45.2,"hi":-41.6},{"hz":465,"db":-43.1,"lo":-44.9,"hi":-41.3},{"hz":470,"db":-43.8,"lo":-45.6,"hi":-42},{"hz":475,"db":-43.6,"lo":-45.4,"hi":-41.8},
      {"hz":479.5,"db":-44.2,"lo":-46,"hi":-42.4},{"hz":480,"db":-36.4,"lo":-37.4,"hi":-35.4},{"hz":480.5,"db":-44.2,"lo":-46,"hi":-42.4},{"hz":485,"db":-44.1,"lo":-45.9,"hi":-42.3},{"hz":490,"db":-44.8,"lo":-46.6,"hi":-43},
      {"hz":495,"db":-44.8,"lo":-46.6,"hi":-43},{"hz":500,"db":-45.4,"lo":-47.2,"hi":-43.6}
    ],
    "pwnpZoom": [
      {"hz":0,"db":-27,"lo":-33,"hi":-22},{"hz":5,"db":-33,"lo":-40,"hi":-28},{"hz":10,"db":-36,"lo":-44,"hi":-31},{"hz":15,"db":-37.5,"lo":-44,"hi":-32.5},{"hz":20,"db":-39,"lo":-47,"hi":-34.5},
      {"hz":30,"db":-40.5,"lo":-47,"hi":-35.5},{"hz":40,"db":-42,"lo":-51,"hi":-37.5},{"hz":50,"db":-43,"lo":-50,"hi":-38},{"hz":60,"db":-44,"lo":-53,"hi":-39.5},{"hz":70,"db":-44.5,"lo":-51.5,"hi":-39.5},
      {"hz":80,"db":-45,"lo":-54,"hi":-40.5},{"hz":90,"db":-45.5,"lo":-52.5,"hi":-40.5},{"hz":100,"db":-46,"lo":-55,"hi":-41.5},{"hz":110,"db":-46.5,"lo":-53.5,"hi":-41.5},{"hz":120,"db":-47,"lo":-56,"hi":-42.5},
      {"hz":130,"db":-47.5,"lo":-54.5,"hi":-42.5},{"hz":140,"db":-48,"lo":-57,"hi":-43.5},{"hz":150,"db":-48,"lo":-55,"hi":-43},{"hz":160,"db":-48.5,"lo":-57.5,"hi":-44},{"hz":170,"db":-48.5,"lo":-55.5,"hi":-43.5},
      {"hz":180,"db":-49,"lo":-58,"hi":-44.5},{"hz":190,"db":-49,"lo":-56,"hi":-44},{"hz":200,"db":-49.5,"lo":-58.5,"hi":-45},{"hz":210,"db":-49.5,"lo":-56.5,"hi":-44.5},{"hz":220,"db":-50,"lo":-59,"hi":-45.5},
      {"hz":230,"db":-50,"lo":-57,"hi":-45},{"hz":240,"db":-50.5,"lo":-59.5,"hi":-46},{"hz":250,"db":-50.5,"lo":-57.5,"hi":-45.5},{"hz":260,"db":-50.5,"lo":-59.5,"hi":-46},{"hz":270,"db":-51,"lo":-58,"hi":-46},
      {"hz":280,"db":-51,"lo":-60,"hi":-46.5},{"hz":288,"db":-49,"lo":-56,"hi":-44},{"hz":292,"db":-42,"lo":-47,"hi":-38},{"hz":294,"db":-30.5,"lo":-33,"hi":-29.5},{"hz":296,"db":-42,"lo":-47,"hi":-38},
      {"hz":300,"db":-50,"lo":-57,"hi":-45},{"hz":310,"db":-51,"lo":-60,"hi":-46.5},{"hz":320,"db":-51,"lo":-58,"hi":-46},{"hz":330,"db":-51.5,"lo":-60.5,"hi":-47},{"hz":340,"db":-51.5,"lo":-58.5,"hi":-46.5},
      {"hz":350,"db":-51.5,"lo":-60.5,"hi":-47},{"hz":360,"db":-52,"lo":-59,"hi":-47},{"hz":370,"db":-52,"lo":-61,"hi":-47.5},{"hz":380,"db":-52.5,"lo":-59.5,"hi":-47.5},{"hz":390,"db":-52.5,"lo":-61.5,"hi":-48},
      {"hz":400,"db":-52.5,"lo":-59.5,"hi":-47.5},{"hz":410,"db":-53,"lo":-62,"hi":-48.5},{"hz":420,"db":-53,"lo":-60,"hi":-48},{"hz":430,"db":-53,"lo":-62,"hi":-48.5},{"hz":440,"db":-53.5,"lo":-60.5,"hi":-48.5},
      {"hz":450,"db":-53.5,"lo":-62.5,"hi":-49},{"hz":460,"db":-54,"lo":-61,"hi":-49},{"hz":470,"db":-54,"lo":-63,"hi":-49.5},{"hz":480,"db":-54,"lo":-61,"hi":-49},{"hz":490,"db":-54.5,"lo":-63.5,"hi":-50},
      {"hz":500,"db":-54,"lo":-61,"hi":-49}
    ],
    "icaZoom": [
      {"hz":0,"db":-20,"lo":-26,"hi":-15},{"hz":5,"db":-25,"lo":-29.5,"hi":-20},{"hz":10,"db":-27.5,"lo":-33,"hi":-23},{"hz":15,"db":-27,"lo":-31.5,"hi":-22},{"hz":20,"db":-29.5,"lo":-35,"hi":-25},
      {"hz":25,"db":-28.5,"lo":-33,"hi":-23.5},{"hz":30,"db":-31,"lo":-36.5,"hi":-26.5},{"hz":35,"db":-29.5,"lo":-34,"hi":-24.5},{"hz":40,"db":-31.5,"lo":-37,"hi":-27},{"hz":45,"db":-30.5,"lo":-35,"hi":-25.5},
      {"hz":50,"db":-32.5,"lo":-38,"hi":-28},{"hz":55,"db":-31,"lo":-35.5,"hi":-26},{"hz":60,"db":-33,"lo":-38.5,"hi":-28.5},{"hz":65,"db":-31.5,"lo":-36,"hi":-26.5},{"hz":70,"db":-33.5,"lo":-39,"hi":-29},
      {"hz":75,"db":-32,"lo":-36.5,"hi":-27},{"hz":80,"db":-34.5,"lo":-40,"hi":-30},{"hz":85,"db":-33,"lo":-37.5,"hi":-28},{"hz":90,"db":-35,"lo":-40.5,"hi":-30.5},{"hz":95,"db":-33.5,"lo":-38,"hi":-28.5},
      {"hz":100,"db":-35.5,"lo":-41,"hi":-31},{"hz":105,"db":-34,"lo":-38.5,"hi":-29},{"hz":110,"db":-36,"lo":-41.5,"hi":-31.5},{"hz":115,"db":-34.5,"lo":-39,"hi":-29.5},{"hz":120,"db":-36,"lo":-41.5,"hi":-31.5},
      {"hz":125,"db":-35,"lo":-39.5,"hi":-30},{"hz":130,"db":-37,"lo":-42.5,"hi":-32.5},{"hz":135,"db":-35.5,"lo":-40,"hi":-30.5},{"hz":140,"db":-36.5,"lo":-42,"hi":-32},{"hz":145,"db":-35.5,"lo":-40,"hi":-30.5},
      {"hz":150,"db":-37.5,"lo":-43,"hi":-33},{"hz":155,"db":-36,"lo":-40.5,"hi":-31},{"hz":160,"db":-38,"lo":-43.5,"hi":-33.5},{"hz":165,"db":-36.5,"lo":-41,"hi":-31.5},{"hz":170,"db":-38,"lo":-43.5,"hi":-33.5},
      {"hz":175,"db":-37,"lo":-41.5,"hi":-32},{"hz":180,"db":-38.5,"lo":-44,"hi":-34},{"hz":185,"db":-37,"lo":-41.5,"hi":-32},{"hz":190,"db":-39,"lo":-44.5,"hi":-34.5},{"hz":195,"db":-37.5,"lo":-42,"hi":-32.5},
      {"hz":200,"db":-39,"lo":-44.5,"hi":-34.5},{"hz":205,"db":-38,"lo":-42.5,"hi":-33},{"hz":210,"db":-39.5,"lo":-45,"hi":-35},{"hz":215,"db":-38,"lo":-42.5,"hi":-33},{"hz":220,"db":-40,"lo":-45.5,"hi":-35.5},
      {"hz":225,"db":-38.5,"lo":-43,"hi":-33.5},{"hz":230,"db":-40,"lo":-45.5,"hi":-35.5},{"hz":235,"db":-39,"lo":-43.5,"hi":-34},{"hz":240,"db":-40.5,"lo":-46,"hi":-36},{"hz":245,"db":-39.5,"lo":-44,"hi":-34.5},
      {"hz":250,"db":-41,"lo":-46.5,"hi":-36.5},{"hz":255,"db":-40,"lo":-44.5,"hi":-35},{"hz":260,"db":-42,"lo":-47.5,"hi":-37.5},{"hz":265,"db":-40.5,"lo":-45,"hi":-35.5},{"hz":270,"db":-42,"lo":-47.5,"hi":-37.5},
      {"hz":275,"db":-41,"lo":-45.5,"hi":-36},{"hz":280,"db":-42.5,"lo":-48,"hi":-38},{"hz":285,"db":-41,"lo":-45.5,"hi":-36},{"hz":290,"db":-41.5,"lo":-47,"hi":-36.5},{"hz":292,"db":-35,"lo":-42,"hi":-30},
      {"hz":294,"db":-21.7,"lo":-26,"hi":-20},{"hz":296,"db":-35,"lo":-42,"hi":-30},{"hz":300,"db":-42,"lo":-47,"hi":-37},{"hz":305,"db":-40.5,"lo":-45,"hi":-35.5},{"hz":310,"db":-42.5,"lo":-48,"hi":-38},
      {"hz":315,"db":-41,"lo":-45.5,"hi":-36},{"hz":320,"db":-43,"lo":-48.5,"hi":-38.5},{"hz":325,"db":-41.5,"lo":-46,"hi":-36.5},{"hz":330,"db":-42.5,"lo":-48,"hi":-38},{"hz":335,"db":-41,"lo":-45.5,"hi":-36},
      {"hz":340,"db":-43,"lo":-48.5,"hi":-38.5},{"hz":345,"db":-41.5,"lo":-46,"hi":-36.5},{"hz":350,"db":-43.5,"lo":-49,"hi":-39},{"hz":355,"db":-41.5,"lo":-46,"hi":-36.5},{"hz":360,"db":-43,"lo":-48.5,"hi":-38.5},
      {"hz":365,"db":-41,"lo":-45.5,"hi":-36},{"hz":370,"db":-42.5,"lo":-48,"hi":-38},{"hz":375,"db":-41.5,"lo":-46,"hi":-36.5},{"hz":380,"db":-43.5,"lo":-49,"hi":-39},{"hz":385,"db":-42,"lo":-46.5,"hi":-37},
      {"hz":390,"db":-43,"lo":-48.5,"hi":-38.5},{"hz":395,"db":-41.5,"lo":-46,"hi":-36.5},{"hz":400,"db":-43,"lo":-48.5,"hi":-38.5},{"hz":405,"db":-42,"lo":-46.5,"hi":-37},{"hz":410,"db":-44,"lo":-49.5,"hi":-39.5},
      {"hz":415,"db":-42,"lo":-46.5,"hi":-37},{"hz":420,"db":-43.5,"lo":-49,"hi":-39},{"hz":425,"db":-42,"lo":-46.5,"hi":-37},{"hz":430,"db":-44,"lo":-49.5,"hi":-39.5},{"hz":435,"db":-42.5,"lo":-47,"hi":-37.5},
      {"hz":440,"db":-44,"lo":-49.5,"hi":-39.5},{"hz":445,"db":-42.5,"lo":-47,"hi":-37.5},{"hz":450,"db":-44.5,"lo":-50,"hi":-40},{"hz":455,"db":-43,"lo":-47.5,"hi":-38},{"hz":460,"db":-44,"lo":-49.5,"hi":-39.5},
      {"hz":465,"db":-42.5,"lo":-47,"hi":-37.5},{"hz":470,"db":-44.5,"lo":-50,"hi":-40},{"hz":475,"db":-43,"lo":-47.5,"hi":-38},{"hz":480,"db":-44.5,"lo":-50,"hi":-40},{"hz":485,"db":-42.5,"lo":-47,"hi":-37.5},
      {"hz":490,"db":-44,"lo":-49.5,"hi":-39.5},{"hz":495,"db":-43,"lo":-47.5,"hi":-38},{"hz":500,"db":-44,"lo":-49.5,"hi":-39.5}
    ],
    "baseZoom": [
      {"hz":0,"db":-12,"lo":-18,"hi":-8},{"hz":2,"db":-18,"lo":-24,"hi":-14},{"hz":5,"db":-24,"lo":-30,"hi":-19},{"hz":10,"db":-28,"lo":-35,"hi":-24.5},{"hz":15,"db":-31,"lo":-37,"hi":-26},
      {"hz":20,"db":-32.5,"lo":-39.5,"hi":-29},{"hz":25,"db":-34,"lo":-39,"hi":-28.5},{"hz":30,"db":-35,"lo":-42,"hi":-31.5},{"hz":35,"db":-36.5,"lo":-41.5,"hi":-31},{"hz":40,"db":-37.5,"lo":-44.5,"hi":-34},
      {"hz":45,"db":-38.5,"lo":-43.5,"hi":-33},{"hz":50,"db":-39.5,"lo":-46.5,"hi":-36},{"hz":55,"db":-39,"lo":-44,"hi":-33.5},{"hz":59.5,"db":-40,"lo":-46,"hi":-36},{"hz":60,"db":-9.7,"lo":-11,"hi":-9.2},
      {"hz":60.5,"db":-40,"lo":-46,"hi":-36},{"hz":65,"db":-40.5,"lo":-45.5,"hi":-35},{"hz":70,"db":-41.5,"lo":-48.5,"hi":-38},{"hz":75,"db":-41,"lo":-46,"hi":-35.5},{"hz":80,"db":-42.5,"lo":-49.5,"hi":-39},
      {"hz":85,"db":-42,"lo":-47,"hi":-36.5},{"hz":90,"db":-43.5,"lo":-50.5,"hi":-40},{"hz":95,"db":-43,"lo":-48,"hi":-37.5},{"hz":100,"db":-44.5,"lo":-51.5,"hi":-41},{"hz":105,"db":-44,"lo":-49,"hi":-38.5},
      {"hz":110,"db":-45.5,"lo":-52.5,"hi":-42},{"hz":115,"db":-45,"lo":-50,"hi":-39.5},{"hz":119.5,"db":-46,"lo":-52,"hi":-42},{"hz":120,"db":-28.3,"lo":-30,"hi":-27.8},{"hz":120.5,"db":-46,"lo":-52,"hi":-42},
      {"hz":125,"db":-46,"lo":-51,"hi":-40.5},{"hz":130,"db":-47,"lo":-54,"hi":-43.5},{"hz":135,"db":-46.5,"lo":-51.5,"hi":-41},{"hz":140,"db":-47.5,"lo":-54.5,"hi":-44},{"hz":145,"db":-47,"lo":-52,"hi":-41.5},
      {"hz":150,"db":-48.5,"lo":-55.5,"hi":-45},{"hz":155,"db":-48,"lo":-53,"hi":-42.5},{"hz":160,"db":-49,"lo":-56,"hi":-45.5},{"hz":165,"db":-48,"lo":-53,"hi":-42.5},{"hz":170,"db":-49.5,"lo":-56.5,"hi":-46},
      {"hz":175,"db":-48.5,"lo":-53.5,"hi":-43},{"hz":179.5,"db":-49,"lo":-55,"hi":-45},{"hz":180,"db":-31.7,"lo":-33,"hi":-31.2},{"hz":180.5,"db":-49,"lo":-55,"hi":-45},{"hz":185,"db":-49.5,"lo":-54.5,"hi":-44},
      {"hz":190,"db":-50,"lo":-57,"hi":-46.5},{"hz":195,"db":-49,"lo":-54,"hi":-43.5},{"hz":200,"db":-50.5,"lo":-57.5,"hi":-47},{"hz":205,"db":-49.5,"lo":-54.5,"hi":-44},{"hz":210,"db":-50.5,"lo":-57.5,"hi":-47},
      {"hz":215,"db":-50,"lo":-55,"hi":-44.5},{"hz":220,"db":-51,"lo":-58,"hi":-47.5},{"hz":225,"db":-50,"lo":-55,"hi":-44.5},{"hz":230,"db":-51,"lo":-58,"hi":-47.5},{"hz":235,"db":-50.5,"lo":-55.5,"hi":-45},
      {"hz":239.5,"db":-51,"lo":-57,"hi":-47},{"hz":240,"db":-31,"lo":-32.5,"hi":-30.5},{"hz":240.5,"db":-51,"lo":-57,"hi":-47},{"hz":245,"db":-51.5,"lo":-56.5,"hi":-46},{"hz":250,"db":-52,"lo":-59,"hi":-48.5},
      {"hz":255,"db":-51,"lo":-56,"hi":-45.5},{"hz":260,"db":-52.5,"lo":-59.5,"hi":-49},{"hz":265,"db":-51.5,"lo":-56.5,"hi":-46},{"hz":270,"db":-52.5,"lo":-59.5,"hi":-49},{"hz":275,"db":-51.5,"lo":-56.5,"hi":-46},
      {"hz":280,"db":-53,"lo":-60,"hi":-49.5},{"hz":285,"db":-52,"lo":-57,"hi":-46.5},{"hz":290,"db":-53.5,"lo":-60.5,"hi":-50},{"hz":295,"db":-52,"lo":-57,"hi":-46.5},{"hz":299.5,"db":-52,"lo":-58,"hi":-48},
      {"hz":300,"db":-38.5,"lo":-40,"hi":-38},{"hz":300.5,"db":-52,"lo":-58,"hi":-48},{"hz":305,"db":-51.5,"lo":-56.5,"hi":-46},{"hz":310,"db":-52.5,"lo":-59.5,"hi":-49},{"hz":315,"db":-51,"lo":-56,"hi":-45.5},
      {"hz":320,"db":-52,"lo":-59,"hi":-48.5},{"hz":325,"db":-50.5,"lo":-55.5,"hi":-45},{"hz":330,"db":-52,"lo":-59,"hi":-48.5},{"hz":335,"db":-51,"lo":-56,"hi":-45.5},{"hz":340,"db":-52.5,"lo":-59.5,"hi":-49},
      {"hz":345,"db":-51,"lo":-56,"hi":-45.5},{"hz":350,"db":-51.5,"lo":-58.5,"hi":-48},{"hz":355,"db":-50.5,"lo":-55.5,"hi":-45},{"hz":359.5,"db":-52,"lo":-58,"hi":-48},{"hz":360,"db":-42.9,"lo":-44.5,"hi":-42.4},
      {"hz":360.5,"db":-52,"lo":-58,"hi":-48},{"hz":365,"db":-51,"lo":-56,"hi":-45.5},{"hz":370,"db":-52.5,"lo":-59.5,"hi":-49},{"hz":375,"db":-51.5,"lo":-56.5,"hi":-46},{"hz":380,"db":-53,"lo":-60,"hi":-49.5},
      {"hz":385,"db":-52,"lo":-57,"hi":-46.5},{"hz":390,"db":-53,"lo":-60,"hi":-49.5},{"hz":395,"db":-51.5,"lo":-56.5,"hi":-46},{"hz":400,"db":-52.5,"lo":-59.5,"hi":-49},{"hz":405,"db":-51.5,"lo":-56.5,"hi":-46},
      {"hz":410,"db":-53,"lo":-60,"hi":-49.5},{"hz":415,"db":-52.5,"lo":-57.5,"hi":-47},{"hz":419.5,"db":-54,"lo":-60,"hi":-50},{"hz":420,"db":-35.8,"lo":-37.5,"hi":-35.3},{"hz":420.5,"db":-54,"lo":-60,"hi":-50},
      {"hz":425,"db":-52,"lo":-57,"hi":-46.5},{"hz":430,"db":-53.5,"lo":-60.5,"hi":-50},{"hz":435,"db":-52.5,"lo":-57.5,"hi":-47},{"hz":440,"db":-54,"lo":-61,"hi":-50.5},{"hz":445,"db":-53,"lo":-58,"hi":-47.5},
      {"hz":450,"db":-54.5,"lo":-61.5,"hi":-51},{"hz":455,"db":-53.5,"lo":-58.5,"hi":-48},{"hz":460,"db":-55,"lo":-62,"hi":-51.5},{"hz":465,"db":-53.5,"lo":-58.5,"hi":-48},{"hz":470,"db":-54.5,"lo":-61.5,"hi":-51},
      {"hz":475,"db":-53.5,"lo":-58.5,"hi":-48},{"hz":479.5,"db":-55,"lo":-61,"hi":-51},{"hz":480,"db":-37.5,"lo":-39,"hi":-37},{"hz":480.5,"db":-55,"lo":-61,"hi":-51},{"hz":485,"db":-53.5,"lo":-58.5,"hi":-48},
      {"hz":490,"db":-55,"lo":-62,"hi":-51.5},{"hz":495,"db":-54,"lo":-59,"hi":-48.5},{"hz":500,"db":-53.5,"lo":-60.5,"hi":-50}
    ],
    "frameTicksTopX": [{"hz": 5000}, {"hz": 10000}],
    "frameTicksTopY": [{"db": -80}, {"db": -60}, {"db": -40}, {"db": -20}, {"db": 0}, {"db": 20}],
    "frameTicksZoomX": [{"hz": 100}, {"hz": 200}, {"hz": 300}, {"hz": 400}],
    "frameTicksZoomY": [{"db": -60}, {"db": -40}, {"db": -20}, {"db": 0}, {"db": 20}],
    "noteTop": [{"hz": 280, "db": -97, "label": "Subject 5 (Electrode 73)"}],
    "noteZoom": [{"hz": 9, "db": -66.4, "label": "Subject 5 (Zoomed) (Electrode 73)"}]
  },
  "vconcat": [
    {
      "width": 966,
      "height": 510,
      "layer": [
        {
          "data": {"name": "stimTop"},
          "mark": {"type": "area", "color": "#E8662C", "opacity": 0.45, "clip": true},
          "encoding": {
            "x": {"field": "hz", "type": "quantitative", "scale": {"domain": [0, 15000], "nice": false, "zero": false},
                  "axis": {"values": [0, 5000, 10000, 15000], "labelExpr": "'' + datum.value", "title": "Hz", "titleX": 461, "titleY": 63, "titleAlign": "center", "titleBaseline": "alphabetic"}},
            "y": {"field": "lo", "type": "quantitative", "scale": {"domain": [-100, 25], "nice": false, "zero": false},
                  "axis": {"values": [-100, -80, -60, -40, -20, 0, 20], "labelExpr": "'' + datum.value", "title": "dB", "titleX": -80, "titleY": 270, "titleAngle": 270, "titleAlign": "center", "titleBaseline": "alphabetic"}},
            "y2": {"field": "hi"}
          }
        },
        {
          "data": {"name": "stimTop"},
          "mark": {"type": "line", "strokeWidth": 2.6, "clip": true},
          "encoding": {
            "x": {"field": "hz", "type": "quantitative"},
            "y": {"field": "db", "type": "quantitative"},
            "color": {"datum": "Stimulation", "scale": {"domain": ["Stimulation", "PWNP-cleaned", "ICA-cleaned", "Baseline"], "range": ["#E8662C", "#FF66FF", "#00FFFF", "#138A13"]},
                      "legend": {"title": null, "orient": "none", "legendX": 737, "legendY": -32}}
          }
        },
        {
          "data": {"name": "pwnpTop"},
          "mark": {"type": "area", "color": "#E070E0", "opacity": 0.06, "clip": true},
          "encoding": {"x": {"field": "hz", "type": "quantitative"}, "y": {"field": "haze", "type": "quantitative"}, "y2": {"field": "lo"}}
        },
        {
          "data": {"name": "pwnpTop"},
          "mark": {"type": "area", "color": "#DC6CDC", "opacity": 0.7, "clip": true},
          "encoding": {"x": {"field": "hz", "type": "quantitative"}, "y": {"field": "lo", "type": "quantitative"}, "y2": {"field": "hi"}}
        },
        {
          "data": {"name": "pwnpTop"},
          "mark": {"type": "line", "strokeWidth": 1.5, "clip": true},
          "encoding": {
            "x": {"field": "hz", "type": "quantitative"},
            "y": {"field": "db", "type": "quantitative"},
            "color": {"datum": "PWNP-cleaned", "legend": {"title": null, "orient": "none", "legendX": 737, "legendY": -32}}
          }
        },
        {
          "data": {"name": "icaTop"},
          "mark": {"type": "area", "color": "#14E4E4", "opacity": 0.85, "clip": true},
          "encoding": {"x": {"field": "hz", "type": "quantitative"}, "y": {"field": "lo", "type": "quantitative"}, "y2": {"field": "hi"}}
        },
        {
          "data": {"name": "icaTop"},
          "mark": {"type": "line", "strokeWidth": 1.5, "clip": true},
          "encoding": {
            "x": {"field": "hz", "type": "quantitative"},
            "y": {"field": "db", "type": "quantitative"},
            "color": {"datum": "ICA-cleaned", "legend": {"title": null, "orient": "none", "legendX": 737, "legendY": -32}}
          }
        },
        {
          "data": {"name": "harmonicsTop"},
          "mark": {"type": "rule", "color": "#00F2F2", "strokeWidth": 2.5, "clip": true},
          "encoding": {"x": {"field": "hz", "type": "quantitative"}, "y": {"field": "ica", "type": "quantitative"}, "y2": {"field": "base"}}
        },
        {
          "data": {"name": "harmonicsTop"},
          "mark": {"type": "rule", "color": "#F45CF4", "strokeWidth": 2.5, "clip": true},
          "encoding": {"x": {"field": "hz", "type": "quantitative"}, "y": {"field": "pwnp", "type": "quantitative"}, "y2": {"field": "base"}}
        },
        {
          "data": {"name": "baseTop"},
          "mark": {"type": "area", "color": "#3A9A4A", "opacity": 0.04, "clip": true},
          "encoding": {"x": {"field": "hz", "type": "quantitative"}, "y": {"field": "haze", "type": "quantitative"}, "y2": {"field": "lo"}}
        },
        {
          "data": {"name": "baseTop"},
          "mark": {"type": "area", "color": "#2E8B45", "opacity": 0.88, "clip": true},
          "encoding": {"x": {"field": "hz", "type": "quantitative"}, "y": {"field": "lo", "type": "quantitative"}, "y2": {"field": "hi"}}
        },
        {
          "data": {"name": "lineNoiseTop"},
          "mark": {"type": "rule", "color": "#0E7E0E", "strokeWidth": 1.6, "clip": true},
          "encoding": {"x": {"field": "hz", "type": "quantitative"}, "y": {"field": "top", "type": "quantitative"}, "y2": {"field": "base"}}
        },
        {
          "data": {"name": "baseTop"},
          "mark": {"type": "line", "strokeWidth": 1.5, "clip": true},
          "encoding": {
            "x": {"field": "hz", "type": "quantitative"},
            "y": {"field": "db", "type": "quantitative"},
            "color": {"datum": "Baseline", "legend": {"title": null, "orient": "none", "legendX": 737, "legendY": -32}}
          }
        },
        {
          "data": {"name": "frameTicksTopX"},
          "mark": {"type": "rule", "color": "#8a8a8a", "strokeWidth": 1},
          "encoding": {"x": {"field": "hz", "type": "quantitative"}, "y": {"datum": 25}, "y2": {"datum": 22.8}}
        },
        {
          "data": {"name": "frameTicksTopY"},
          "mark": {"type": "rule", "color": "#8a8a8a", "strokeWidth": 1},
          "encoding": {"y": {"field": "db", "type": "quantitative"}, "x": {"datum": 15000}, "x2": {"datum": 14860}}
        },
        {
          "data": {"name": "noteTop"},
          "mark": {"type": "text", "align": "left", "baseline": "alphabetic", "font": "Lato", "fontSize": 53, "color": "#000000"},
          "encoding": {"x": {"field": "hz", "type": "quantitative"}, "y": {"field": "db", "type": "quantitative"}, "text": {"field": "label"}}
        }
      ]
    },
    {
      "width": 966,
      "height": 510,
      "layer": [
        {
          "data": {"name": "stimZoom"},
          "mark": {"type": "area", "color": "#EC7A48", "opacity": 0.55, "clip": true},
          "encoding": {
            "x": {"field": "hz", "type": "quantitative", "scale": {"domain": [0, 500], "nice": false, "zero": false},
                  "axis": {"values": [0, 100, 200, 300, 400, 500], "labelExpr": "'' + datum.value", "title": "Hz", "titleX": 461, "titleY": 58, "titleAlign": "center", "titleBaseline": "alphabetic"}},
            "y": {"field": "lo", "type": "quantitative", "scale": {"domain": [-70, 25], "nice": false, "zero": false},
                  "axis": {"values": [-60, -40, -20, 0, 20], "labelExpr": "'' + datum.value", "title": "dB", "titleX": -80, "titleY": 246, "titleAngle": 270, "titleAlign": "center", "titleBaseline": "alphabetic"}},
            "y2": {"field": "hi"}
          }
        },
        {
          "data": {"name": "stimZoom"},
          "mark": {"type": "line", "strokeWidth": 2.2, "clip": true},
          "encoding": {
            "x": {"field": "hz", "type": "quantitative"},
            "y": {"field": "db", "type": "quantitative"},
            "color": {"datum": "Stimulation", "scale": {"domain": ["Stimulation", "PWNP-cleaned", "ICA-cleaned", "Baseline"], "range": ["#E8662C", "#FF66FF", "#00FFFF", "#138A13"]},
                      "legend": {"title": null, "orient": "none", "legendX": 737, "legendY": -23}}
          }
        },
        {
          "data": {"name": "pwnpZoom"},
          "mark": {"type": "area", "color": "#FF55FF", "opacity": 0.42, "clip": true},
          "encoding": {"x": {"field": "hz", "type": "quantitative"}, "y": {"field": "lo", "type": "quantitative"}, "y2": {"field": "hi"}}
        },
        {
          "data": {"name": "pwnpZoom"},
          "mark": {"type": "line", "strokeWidth": 2, "clip": true},
          "encoding": {
            "x": {"field": "hz", "type": "quantitative"},
            "y": {"field": "db", "type": "quantitative"},
            "color": {"datum": "PWNP-cleaned", "legend": {"title": null, "orient": "none", "legendX": 737, "legendY": -23}}
          }
        },
        {
          "data": {"name": "icaZoom"},
          "mark": {"type": "area", "color": "#00FFFF", "opacity": 0.5, "clip": true},
          "encoding": {"x": {"field": "hz", "type": "quantitative"}, "y": {"field": "lo", "type": "quantitative"}, "y2": {"field": "hi"}}
        },
        {
          "data": {"name": "icaZoom"},
          "mark": {"type": "line", "strokeWidth": 2, "clip": true},
          "encoding": {
            "x": {"field": "hz", "type": "quantitative"},
            "y": {"field": "db", "type": "quantitative"},
            "color": {"datum": "ICA-cleaned", "legend": {"title": null, "orient": "none", "legendX": 737, "legendY": -23}}
          }
        },
        {
          "data": {"name": "baseZoom"},
          "mark": {"type": "area", "color": "#22AA22", "opacity": 0.5, "clip": true},
          "encoding": {"x": {"field": "hz", "type": "quantitative"}, "y": {"field": "lo", "type": "quantitative"}, "y2": {"field": "hi"}}
        },
        {
          "data": {"name": "baseZoom"},
          "mark": {"type": "line", "strokeWidth": 2, "clip": true},
          "encoding": {
            "x": {"field": "hz", "type": "quantitative"},
            "y": {"field": "db", "type": "quantitative"},
            "color": {"datum": "Baseline", "legend": {"title": null, "orient": "none", "legendX": 737, "legendY": -23}}
          }
        },
        {
          "data": {"name": "frameTicksZoomX"},
          "mark": {"type": "rule", "color": "#8a8a8a", "strokeWidth": 1},
          "encoding": {"x": {"field": "hz", "type": "quantitative"}, "y": {"datum": 25}, "y2": {"datum": 23.3}}
        },
        {
          "data": {"name": "frameTicksZoomY"},
          "mark": {"type": "rule", "color": "#8a8a8a", "strokeWidth": 1},
          "encoding": {"y": {"field": "db", "type": "quantitative"}, "x": {"datum": 500}, "x2": {"datum": 495.3}}
        },
        {
          "data": {"name": "noteZoom"},
          "mark": {"type": "text", "align": "left", "baseline": "alphabetic", "font": "Lato", "fontSize": 53, "color": "#000000"},
          "encoding": {"x": {"field": "hz", "type": "quantitative"}, "y": {"field": "db", "type": "quantitative"}, "text": {"field": "label"}}
        }
      ]
    }
  ]
}
